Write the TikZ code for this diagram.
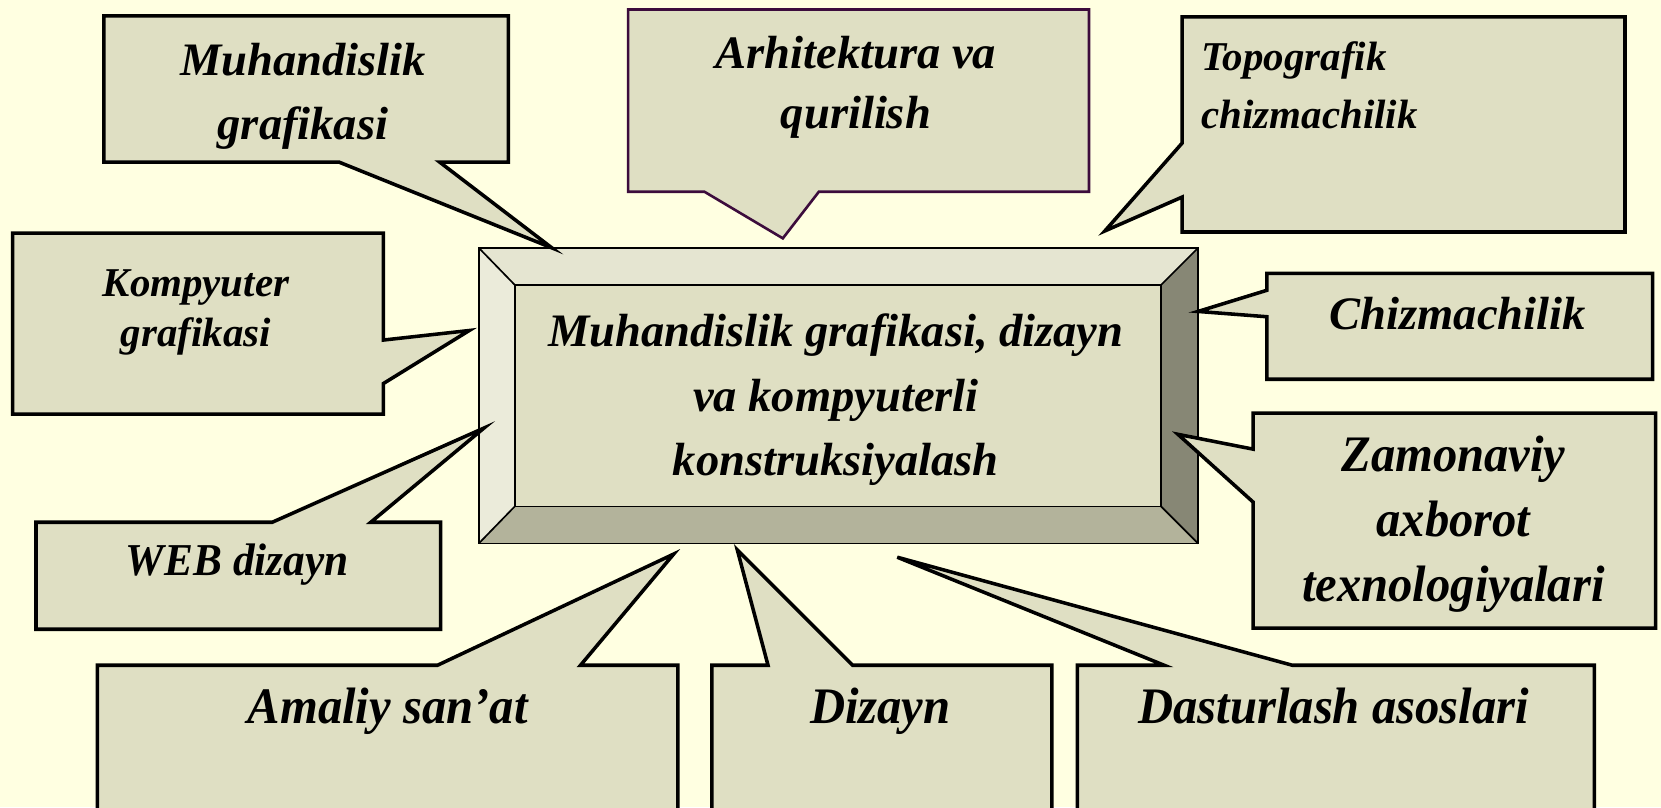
\documentclass[tikz,border=0pt]{standalone}
\usepackage{fontspec}
\setmainfont{Liberation Serif}
\newfontfamily\narrowfont[FakeStretch=0.95]{Liberation Serif}
\usepackage{xcolor}
\definecolor{paper}{HTML}{FFFFE1}
\definecolor{boxfill}{HTML}{DFDFC3}
\definecolor{topface}{HTML}{E5E5D1}
\definecolor{leftface}{HTML}{EBEBDA}
\definecolor{rightface}{HTML}{878775}
\definecolor{bottomface}{HTML}{B3B39B}
\definecolor{plumline}{HTML}{3C0C3C}
\usepackage{tikz}
\usetikzlibrary{calc,positioning}

\tikzset{
  balloon/.style={fill=boxfill, draw=black, line width=1.9pt, line join=miter},
  bevel/.style={draw=black, line width=0.9pt, line join=miter},
  wide/.style={font=\fontsize{25}{34.6}\selectfont\bfseries\itshape, align=center, inner sep=0pt, anchor=base},
  small/.style={font=\fontsize{22}{29}\selectfont\bfseries\itshape, align=center, inner sep=0pt, anchor=base},
  narrow/.style={font=\narrowfont\fontsize{27.5}{34.9}\selectfont\bfseries\itshape, align=center, inner sep=0pt, anchor=base}
}

\begin{document}
\begin{tikzpicture}[x=0.02cm, y=-0.02cm]
  % Page
  \clip (0,0) rectangle (1568,762);
  \fill[paper] (0,0) rectangle (1568,762);

  % Bevelled centre box
  \fill[topface] (452,234) -- (1131,234) -- (1096,269) -- (486,269) -- cycle;
  \fill[leftface] (452,234) -- (486,269) -- (486,478) -- (452,513) -- cycle;
  \fill[rightface] (1131,234) -- (1131,513) -- (1096,478) -- (1096,269) -- cycle;
  \fill[bottomface] (452,513) -- (1131,513) -- (1096,478) -- (486,478) -- cycle;
  \fill[boxfill] (486,269) rectangle (1096,478);
  \draw[bevel] (452,234) rectangle (1131,513);
  \draw[bevel] (486,269) rectangle (1096,478);
  \draw[bevel] (452,234) -- (486,269) (1131,234) -- (1096,269)
    (452,513) -- (486,478) (1131,513) -- (1096,478);
  % (base of a multi-line node = its last line)
  \node[wide] (core) at (789,449)
    {Muhandislik grafikasi, dizayn\\va kompyuterli\\konstruksiyalash};

  % Callouts, top row
  \draw[balloon] (98,15) -- (480,15) -- (480,153) -- (415,153) -- (521,234)
    -- (320,153) -- (98,153) -- cycle;
  \node[wide] (engGraphics) at (286,132) {Muhandislik\\grafikasi};

  \draw[balloon, draw=plumline, line width=1.4pt] (593,9) -- (1028,9) -- (1028,181)
    -- (773,181) -- (739,225) -- (665,181) -- (593,181) -- cycle;
  \node[wide, font=\fontsize{25}{32.3}\selectfont\bfseries\itshape] (architecture) at (808,121)
    {Arhitektura va\\qurilish};

  \draw[balloon] (1116,16) -- (1534,16) -- (1534,219) -- (1116,219) -- (1116,186)
    -- (1043,218) -- (1116,135) -- cycle;
  \node[small, align=left, anchor=base west, font=\fontsize{22}{31.2}\selectfont\bfseries\itshape]
    (topography) at (1134,121) {Topografik\\chizmachilik};

  % Callouts, sides
  \draw[balloon] (12,220) -- (362,220) -- (362,321) -- (443,312) -- (362,362)
    -- (362,391) -- (12,391) -- cycle;
  \node[small, font=\fontsize{22}{26.9}\selectfont\bfseries\itshape] (compGraphics) at (185,327)
    {Kompyuter\\grafikasi};

  \draw[balloon] (1196,258) -- (1560,258) -- (1560,358) -- (1196,358) -- (1196,299)
    -- (1131,294) -- (1196,274) -- cycle;
  \node[wide] (drafting) at (1376,311) {Chizmachilik};

  \draw[balloon] (1183,390) -- (1563,390) -- (1563,593) -- (1183,593) -- (1183,474)
    -- (1112,410) -- (1183,424) -- cycle;
  \node[narrow] (infoTech) at (1372,568) {Zamonaviy\\axborot\\texnologiyalari};

  \draw[balloon] (34,493) -- (257,493) -- (457,404) -- (350,493) -- (416,493)
    -- (416,594) -- (34,594) -- cycle;
  \node[narrow, font=\narrowfont\fontsize{24.5}{30}\selectfont\bfseries\itshape] (webDesign) at (224,543)
    {WEB dizayn};

  % Callouts, bottom row
  \draw[balloon] (92,628) -- (413,628) -- (636,523) -- (548,628) -- (640,628)
    -- (640,780) -- (92,780) -- cycle;
  \draw[balloon] (672,628) -- (725,628) -- (696,519) -- (805,628) -- (993,628)
    -- (993,780) -- (672,780) -- cycle;
  \draw[balloon] (1017,628) -- (1099,628) -- (847,526) -- (1220,628) -- (1505,628)
    -- (1505,780) -- (1017,780) -- cycle;
  \foreach \x/\name/\txt in {366/appliedArt/Amaliy san’at, 831/design/Dizayn,
      1259/programming/Dasturlash asoslari}
    \node[narrow] (\name) at (\x,683) {\txt};
\end{tikzpicture}
\end{document}
